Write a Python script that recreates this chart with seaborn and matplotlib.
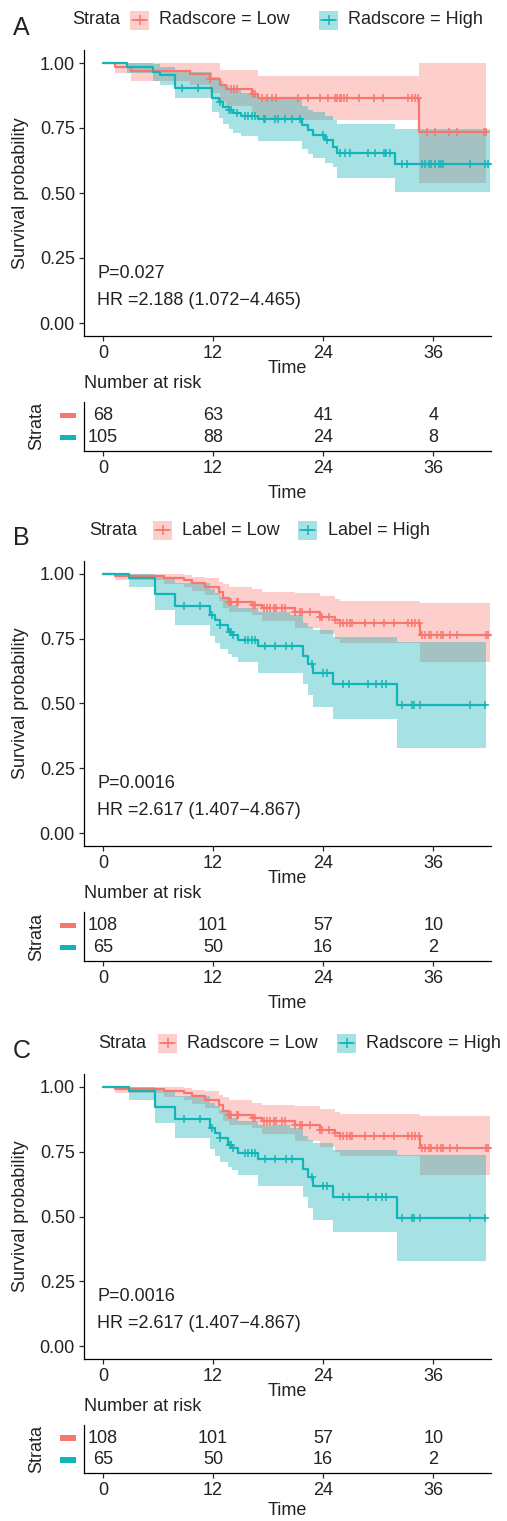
import numpy as np
import matplotlib
matplotlib.use('Agg')
import matplotlib.pyplot as plt
import seaborn as sns
from matplotlib.patches import Rectangle
from matplotlib.lines import Line2D
from matplotlib.transforms import blended_transform_factory

sns.set_style('ticks')
plt.rcParams['font.family'] = ['Liberation Sans', 'DejaVu Sans']

RED = '#F8766D'
TEAL = '#12B6B9'
RED_FILL = '#F8766D'
TEAL_FILL = '#00AAB0'
TXT = '#222222'

# ---- Panel A (Radscore) ----
a_low_t = [0, 1.3, 3.1, 9.5, 11.7, 12.8, 13.4, 16.2, 16.9, 34.4, 41.8]
a_low_s = [1.0, 0.985, 0.970, 0.958, 0.940, 0.915, 0.899, 0.880, 0.864, 0.736, 0.736]
a_low_lo = [1.0, 0.960, 0.930, 0.915, 0.885, 0.855, 0.835, 0.805, 0.780, 0.540, 0.540]
a_low_hi = [1.0, 1.0, 1.0, 1.0, 1.0, 0.975, 0.975, 0.975, 0.950, 1.0, 1.0]
a_low_cens = [11.7, 14.0, 14.3, 14.6, 16.4, 16.6, 17.3, 17.9, 18.4, 18.9, 21.3, 22.4,
              23.7, 24.5, 25.3, 25.5, 25.8, 26.0, 26.3, 26.6, 27.9, 29.5, 30.5, 33.3,
              33.7, 34.0, 34.3, 35.3, 36.2, 37.7, 38.6, 41.5, 41.8]

a_high_t = [0, 2.6, 5.5, 6.2, 7.85, 11.85, 12.6, 13.1, 13.7, 14.2, 15.1, 16.9, 21.7,
            22.4, 22.9, 24.2, 25.1, 25.5, 31.8, 42.2]
a_high_s = [1.0, 0.986, 0.967, 0.954, 0.903, 0.864, 0.851, 0.832, 0.819, 0.806, 0.796,
            0.783, 0.762, 0.742, 0.723, 0.704, 0.678, 0.652, 0.612, 0.612]
a_high_lo = [1.0, 0.960, 0.930, 0.915, 0.865, 0.810, 0.790, 0.765, 0.745, 0.730, 0.720,
             0.700, 0.670, 0.650, 0.635, 0.615, 0.600, 0.557, 0.505, 0.505]
a_high_hi = [1.0, 1.0, 0.995, 0.985, 0.965, 0.945, 0.930, 0.915, 0.905, 0.895, 0.885,
             0.865, 0.835, 0.820, 0.810, 0.795, 0.780, 0.765, 0.746, 0.746]
a_high_cens = [8.6, 10.4, 12.8, 13.7, 14.0, 14.6, 15.5, 15.8, 16.2, 16.6, 17.5, 17.7,
               18.8, 19.1, 19.8, 20.6, 21.5, 24.0, 24.4, 25.8, 26.4, 26.9, 28.9, 29.7,
               30.6, 30.8, 31.3, 32.6, 33.1, 34.8, 35.1, 35.5, 35.8, 36.2, 36.6, 36.9,
               37.1, 40.0, 41.7, 42.0]

# ---- Panels B and C (same curves) ----
b_low_t = [0, 1.3, 6.6, 8.8, 9.7, 11.1, 12.6, 13.1, 13.7, 16.2, 17.3, 20.9, 23.7, 25.3,
           25.8, 34.6, 42.2]
b_low_s = [1.0, 0.993, 0.985, 0.977, 0.964, 0.951, 0.932, 0.906, 0.893, 0.880, 0.867,
           0.854, 0.835, 0.822, 0.809, 0.764, 0.764]
b_low_lo = [1.0, 0.978, 0.962, 0.950, 0.935, 0.920, 0.895, 0.870, 0.855, 0.840, 0.820,
            0.790, 0.770, 0.750, 0.732, 0.661, 0.661]
b_low_hi = [1.0, 1.0, 0.998, 0.995, 0.990, 0.985, 0.970, 0.960, 0.951, 0.940, 0.932,
            0.925, 0.916, 0.905, 0.896, 0.889, 0.889]
b_low_cens = [13.7, 14.0, 14.6, 14.75, 16.4, 16.6, 17.5, 17.85, 18.2, 18.6, 18.9, 19.5,
              19.85, 20.9, 21.5, 21.7, 22.6, 23.7, 23.9, 24.6, 25.3, 25.8, 26.2, 26.6,
              26.9, 27.1, 28.6, 29.5, 30.6, 31.7, 33.3, 33.7, 34.0, 34.4, 34.75, 35.1,
              35.5, 35.8, 36.4, 36.9, 37.1, 37.8, 38.6, 41.8, 42.0]

b_high_t = [0, 2.8, 5.7, 7.85, 11.7, 12.2, 12.8, 13.6, 14.1, 14.7, 16.9, 20.4, 21.8,
            22.4, 22.9, 25.1, 32.0, 41.8]
b_high_s = [1.0, 0.983, 0.921, 0.878, 0.842, 0.822, 0.803, 0.777, 0.764, 0.745, 0.723,
            0.723, 0.684, 0.652, 0.616, 0.577, 0.494, 0.494]
b_high_lo = [1.0, 0.950, 0.861, 0.803, 0.760, 0.735, 0.710, 0.690, 0.680, 0.661, 0.616,
             0.616, 0.577, 0.532, 0.487, 0.440, 0.330, 0.330]
b_high_hi = [1.0, 1.0, 0.990, 0.965, 0.940, 0.925, 0.910, 0.890, 0.880, 0.870, 0.855,
             0.842, 0.809, 0.796, 0.783, 0.758, 0.738, 0.738]
b_high_cens = [8.8, 10.6, 11.85, 12.8, 13.85, 14.0, 14.2, 15.5, 15.8, 16.2, 16.6, 17.7,
               18.8, 20.0, 20.6, 22.8, 24.0, 24.4, 26.2, 26.8, 28.9, 29.8, 30.4, 30.9,
               32.6, 33.7, 33.9, 34.6, 40.0, 41.7]

# ---- number at risk ----
risk_times = [0, 12, 24, 36]
a_risk_low = [68, 63, 41, 4]
a_risk_high = [105, 88, 24, 8]
b_risk_low = [108, 101, 57, 10]
b_risk_high = [65, 50, 16, 2]

a_labels = ['Radscore = Low', 'Radscore = High']
b_labels = ['Label = Low', 'Label = High']
c_labels = ['Radscore = Low', 'Radscore = High']
a_stats = ['P=0.027', 'HR =2.188 (1.072\u22124.465)']
b_stats = ['P=0.0016', 'HR =2.617 (1.407\u22124.867)']

W, H = 507, 1521
fig = plt.figure(figsize=(W / 100, H / 100), dpi=100)
XLIM = (-2.07, 42.3)
FS = 13


def add_ax(top, bottom):
    return fig.add_axes([84 / W, 1 - bottom / H, 407 / W, (bottom - top) / H])


def style_axis(ax):
    for side in ['top', 'right']:
        ax.spines[side].set_visible(False)
    for side in ['left', 'bottom']:
        ax.spines[side].set_linewidth(0.9)
        ax.spines[side].set_color('black')
    ax.tick_params(length=3.5, width=0.9, labelsize=FS, labelcolor=TXT, pad=3)
    ax.set_xlim(*XLIM)
    ax.set_xticks(risk_times)


def km_panel(ax, curves, stats):
    for t, s, lo, hi, cens, col, fill in curves:
        ax.fill_between(t, lo, hi, step='post', color=fill, alpha=0.35, lw=0)
    for t, s, lo, hi, cens, col, fill in curves:
        sns.lineplot(x=t, y=s, drawstyle='steps-post', color=col, lw=1.6,
                     estimator=None, sort=False, ax=ax)
        idx = np.searchsorted(t, cens, side='right') - 1
        cy = np.array(s)[idx]
        sns.scatterplot(x=cens, y=cy, marker='+', s=38, color=col, linewidth=1.1,
                        ax=ax, zorder=4)
    style_axis(ax)
    ax.set_ylim(-0.05, 1.05)
    ax.set_yticks([0, 0.25, 0.5, 0.75, 1.0])
    ax.set_yticklabels(['0.00', '0.25', '0.50', '0.75', '1.00'])
    ax.set_xlabel('Time', fontsize=FS, color=TXT)
    ax.xaxis.set_label_coords(0.5, -0.083)
    ax.set_ylabel('Survival probability', fontsize=FS, color=TXT)
    ax.yaxis.set_label_coords(-0.135, 0.5)
    ax.text(-0.65, 0.19, stats[0], fontsize=FS, color=TXT, va='center')
    ax.text(-0.65, 0.086, stats[1], fontsize=FS, color=TXT, va='center')


def risk_panel(ax, low, high, time_y=-0.7):
    style_axis(ax)
    ax.set_ylim(0.4, 2.6)
    ax.set_yticks([])
    for x, n in zip(risk_times, low):
        ax.text(x, 2, str(n), ha='center', va='center', fontsize=FS, color=TXT)
    for x, n in zip(risk_times, high):
        ax.text(x, 1, str(n), ha='center', va='center', fontsize=FS, color=TXT)
    tr = blended_transform_factory(ax.transAxes, ax.transData)
    for row, col in [(2, RED), (1, TEAL)]:
        ax.add_patch(Rectangle((-0.059, row - 0.12), 0.039, 0.24, transform=tr,
                               color=col, clip_on=False, lw=0))
    ax.set_title('Number at risk', loc='left', fontsize=FS, color=TXT, pad=10)
    ax.set_xlabel('Time', fontsize=FS, color=TXT)
    ax.xaxis.set_label_coords(0.5, time_y)
    ax.set_ylabel('Strata', fontsize=FS, color=TXT)
    ax.yaxis.set_label_coords(-0.095, 0.5)


def legend(yc, xs, labels, letter, letter_y):
    sx, b1, l1, b2, l2 = xs
    fig.text(13 / W, 1 - letter_y / H, letter, fontsize=18, color=TXT, va='baseline')
    fig.text(sx / W, 1 - yc / H, 'Strata', fontsize=FS, color=TXT, va='center')
    for bx, lx, col, fill, lab in [(b1, l1, RED, RED_FILL, labels[0]),
                                   (b2, l2, TEAL, TEAL_FILL, labels[1])]:
        fig.add_artist(Rectangle((bx / W, 1 - (yc + 9.5) / H), 19 / W, 19 / H,
                                 transform=fig.transFigure, facecolor=fill,
                                 alpha=0.35, lw=0))
        fig.add_artist(Line2D([(bx + 2) / W, (bx + 17) / W], [1 - yc / H] * 2,
                              transform=fig.transFigure, color=col, lw=1.2))
        fig.add_artist(Line2D([(bx + 9.5) / W], [1 - yc / H], marker='+', ms=7, mew=1.1,
                              transform=fig.transFigure, color=col))
        fig.text(lx / W, 1 - yc / H, lab, fontsize=FS, color=TXT, va='center')


a_curves = [(a_low_t, a_low_s, a_low_lo, a_low_hi, a_low_cens, RED, RED_FILL),
            (a_high_t, a_high_s, a_high_lo, a_high_hi, a_high_cens, TEAL, TEAL_FILL)]
b_curves = [(b_low_t, b_low_s, b_low_lo, b_low_hi, b_low_cens, RED, RED_FILL),
            (b_high_t, b_high_s, b_high_lo, b_high_hi, b_high_cens, TEAL, TEAL_FILL)]

# panel A
km_panel(add_ax(50, 336), a_curves, a_stats)
risk_panel(add_ax(402, 451), a_risk_low, a_risk_high)
legend(20, (72, 130, 159, 319, 348), a_labels, 'A', 35)

# panel B
km_panel(add_ax(561, 846), b_curves, b_stats)
risk_panel(add_ax(912, 961), b_risk_low, b_risk_high)
legend(530, (89, 153, 182, 298, 328), b_labels, 'B', 545)

# panel C
km_panel(add_ax(1074, 1359), b_curves, b_stats)
risk_panel(add_ax(1425, 1473), b_risk_low, b_risk_high, time_y=-0.6)
legend(1043, (98, 158, 187, 337, 366), c_labels, 'C', 1058)

fig.savefig('out.png', dpi=100)
